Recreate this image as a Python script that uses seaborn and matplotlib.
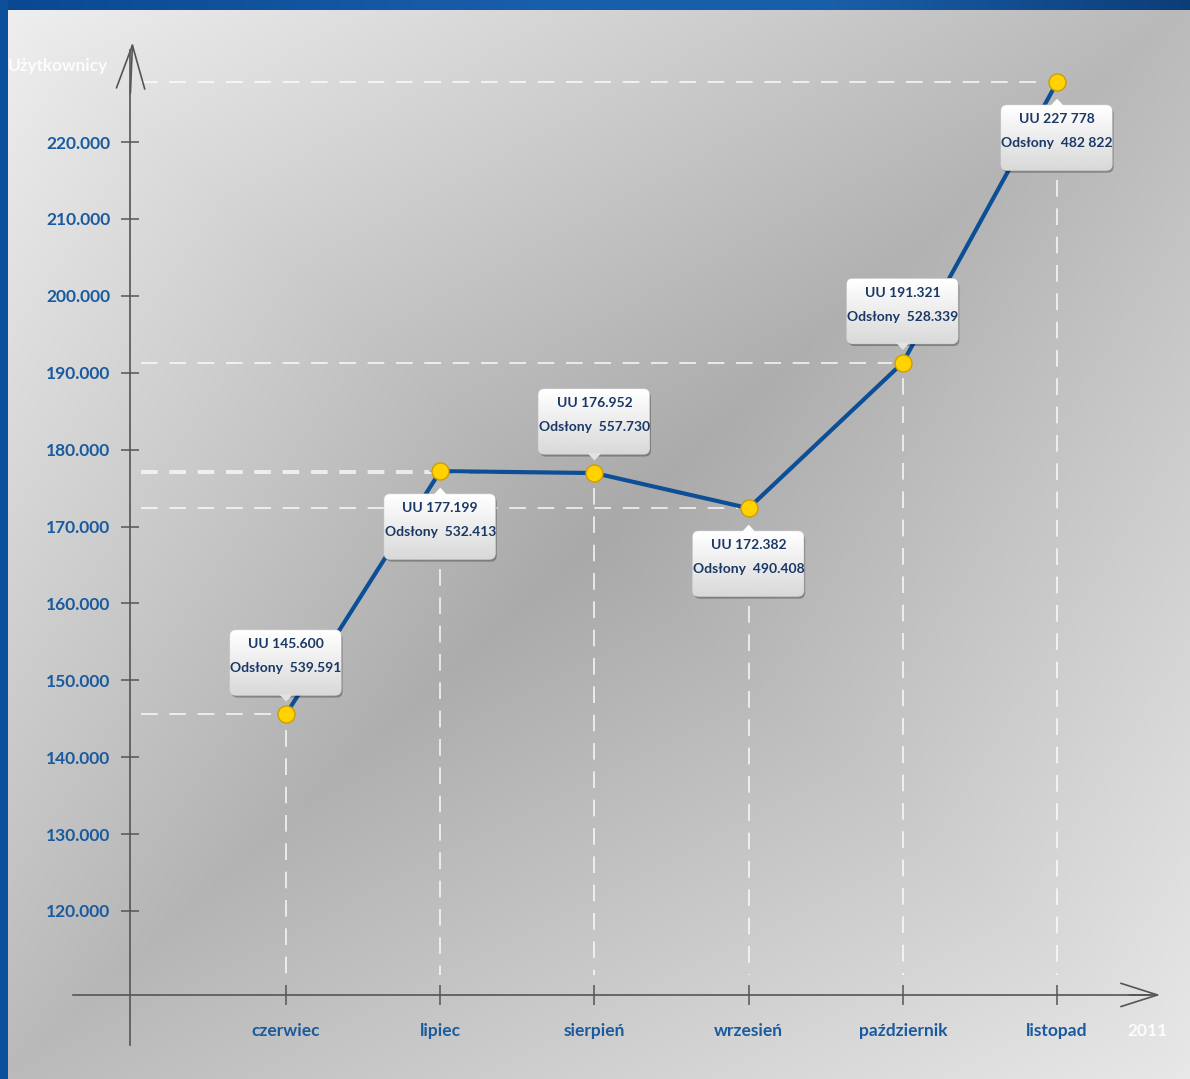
import numpy as np
import matplotlib.pyplot as plt
import matplotlib.transforms as mtransforms
from matplotlib.patches import FancyBboxPatch, Polygon
import seaborn as sns

# data
months = ['czerwiec', 'lipiec', 'sierpień', 'wrzesień', 'październik', 'listopad']
users = [145600, 177199, 176952, 172382, 191321, 227778]
uu_labels = ['UU 145.600', 'UU 177.199', 'UU 176.952', 'UU 172.382', 'UU 191.321', 'UU 227 778']
views_labels = ['Odsłony  539.591', 'Odsłony  532.413', 'Odsłony  557.730',
                'Odsłony  490.408', 'Odsłony  528.339', 'Odsłony  482 822']
box_side = ['above', 'below', 'above', 'below', 'above', 'below']
y_ticks = [120000, 130000, 140000, 150000, 160000, 170000, 180000, 190000, 200000, 210000, 220000]
y_tick_labels = ['120.000', '130.000', '140.000', '150.000', '160.000', '170.000',
                 '180.000', '190.000', '200.000', '210.000', '220.000']

sns.set_theme(style='white')
plt.rcParams['font.family'] = ['Lato', 'DejaVu Sans']
plt.rcParams['font.weight'] = 'bold'

W, H = 1190, 1079
fig = plt.figure(figsize=(W / 100, H / 100), dpi=100)

# background: gray diagonal gradient with a blue frame on top / left
yy, xx = np.mgrid[0:H, 0:W]
u = xx / W
v = yy / H
d = u + v - 1
s = u - v
gray = 0.66 + np.where(d < 0, 0.28, 0.25) * np.abs(d) + 0.07 * np.abs(s)
img = np.dstack([gray, gray, gray])
top_pos = [0, 0.45, 0.7, 1]
top_r = [0.04, 0.10, 0.10, 0.05]
top_g = [0.28, 0.37, 0.37, 0.24]
top_b = [0.57, 0.67, 0.66, 0.47]
xt = np.linspace(0, 1, W)
top_col = np.dstack([np.interp(xt, top_pos, top_r), np.interp(xt, top_pos, top_g),
                     np.interp(xt, top_pos, top_b)])[0]
img[:10, :, :] = top_col[None, :, :]
img[:, :8, :] = [0.05, 0.31, 0.61]

bg = fig.add_axes([0, 0, 1, 1], zorder=0)
bg.imshow(img, aspect='auto', extent=(0, 1, 0, 1), origin='upper')
bg.axis('off')

ax = fig.add_axes([0, 0, 1, 1], zorder=1)
ax.set_facecolor('none')
xlim = (-1.855, 5.862)
ylim = (98150, 238470)
ax.set_xlim(*xlim)
ax.set_ylim(*ylim)

xpos = np.arange(len(months))
axis_x = -1.01
axis_y = 109080
axis_col = '#555555'

for side in ['top', 'right']:
    ax.spines[side].set_visible(False)
ax.spines['left'].set_position(('data', axis_x))
ax.spines['bottom'].set_position(('data', axis_y))
ax.spines['left'].set_bounds(102600, 232000)
ax.spines['bottom'].set_bounds(-1.38, 5.6)
for side in ['left', 'bottom']:
    ax.spines[side].set_color(axis_col)
    ax.spines[side].set_linewidth(1.2)

ax.annotate('', xy=(axis_x + 0.015, 233300), xytext=(axis_x, 226000),
            arrowprops=dict(arrowstyle='->,head_length=2.6,head_width=0.85',
                            color=axis_col, lw=1.2))
ax.annotate('', xy=(5.687, axis_y), xytext=(5.45, axis_y),
            arrowprops=dict(arrowstyle='->,head_length=2.2,head_width=0.7',
                            color=axis_col, lw=1.2))

ax.set_yticks(y_ticks, y_tick_labels)
ax.set_xticks(xpos, months)
ax.tick_params(axis='y', direction='inout', length=13, width=1.1, color=axis_col,
               pad=8, labelsize=12.5, labelcolor='#1a5a9e', left=True)
ax.tick_params(axis='x', direction='inout', length=14, width=1.1, color=axis_col,
               pad=13, labelsize=12.5, labelcolor='#1a5a9e', bottom=True)
plt.setp(ax.get_xticklabels() + ax.get_yticklabels(), fontweight='bold')
ax.grid(False)

# white dashed guide lines
guide = dict(color='white', lw=1.2, alpha=0.85, linestyle=(0, (10, 7)), zorder=2)
for i, val in enumerate(users):
    ax.plot([axis_x + 0.07, i - 0.07], [val, val], **guide)
    start = val - 2000 if box_side[i] == 'above' else val - 12700
    ax.plot([i, i], [start, axis_y + 2600], **guide)

# line and points
sns.lineplot(x=xpos, y=users, ax=ax, color='#0d4f96', lw=3, zorder=3)
sns.scatterplot(x=xpos, y=users, ax=ax, s=150, color='#ffd200', edgecolor='#d09c00',
                linewidth=1, zorder=6)

# callout boxes
box_grad = np.linspace(1.0, 0.85, 64)[:, None]
for i, val in enumerate(users):
    trans = fig.dpi_scale_trans + mtransforms.ScaledTranslation(i, val, ax.transData)
    if box_side[i] == 'above':
        y0 = 0.19
        tri = [(-0.07, y0 + 0.01), (0.07, y0 + 0.01), (0, y0 - 0.065)]
    else:
        y0 = -0.88
        tri = [(-0.07, y0 + 0.64), (0.07, y0 + 0.64), (0, y0 + 0.715)]
    shadow = FancyBboxPatch((-0.545, y0 - 0.025), 1.11, 0.65,
                            boxstyle='round,pad=0,rounding_size=0.06',
                            transform=trans, fc='black', ec='none', alpha=0.28, zorder=4)
    box = FancyBboxPatch((-0.56, y0), 1.11, 0.65, boxstyle='round,pad=0,rounding_size=0.06',
                         transform=trans, fc='#ececec', ec='#cfcfcf', lw=0.8, zorder=4)
    ax.add_patch(shadow)
    ax.add_patch(box)
    fill = ax.imshow(box_grad, cmap='gray', vmin=0, vmax=1, aspect='auto',
                     extent=(-0.56, 0.55, y0, y0 + 0.65), transform=trans,
                     zorder=4.1, interpolation='bilinear')
    fill.set_clip_path(box)
    ax.add_patch(Polygon(tri, closed=True, transform=trans,
                         fc='#e2e2e2' if box_side[i] == 'above' else '#fdfdfd',
                         ec='none', zorder=4.2))
    ax.text(0, y0 + 0.51, uu_labels[i], transform=trans, ha='center', va='center',
            fontsize=10, fontweight='bold', color='#1a3866', zorder=5)
    ax.text(0, y0 + 0.27, views_labels[i], transform=trans, ha='center', va='center',
            fontsize=10, fontweight='bold', color='#1a3866', zorder=5)

ax.set_xlim(*xlim)
ax.set_ylim(*ylim)

fig.text(108 / W, 1 - 66 / H, 'Użytkownicy', ha='right', va='center', color='white',
         fontsize=12.3, fontweight='bold', alpha=0.9)
fig.text(1147 / W, 1 - 1031 / H, '2011', ha='center', va='center', color='white',
         fontsize=12.5, fontweight='bold', alpha=0.9)

fig.savefig('out.png', dpi=100)
